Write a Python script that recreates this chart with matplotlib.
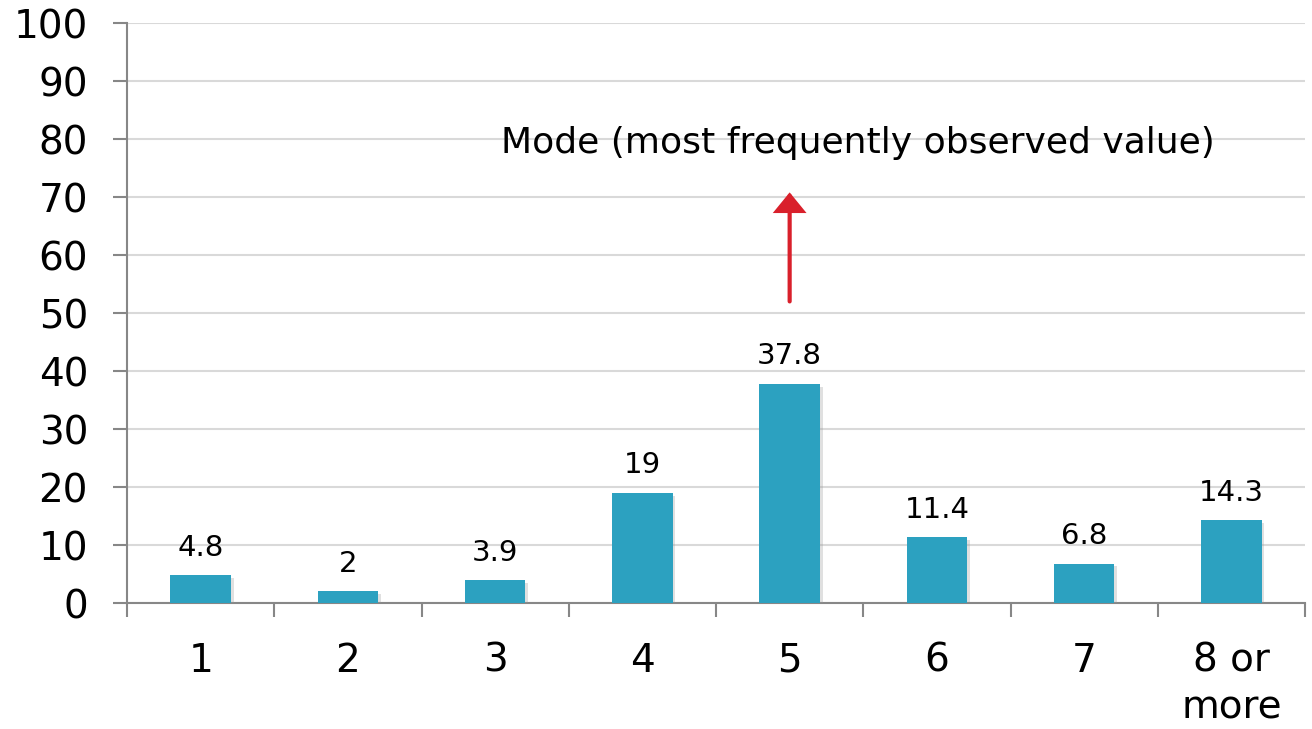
import matplotlib.pyplot as plt
import matplotlib.patheffects as pe

categories = ["1", "2", "3", "4", "5", "6", "7", "8 or\nmore"]
values = [4.8, 2, 3.9, 19, 37.8, 11.4, 6.8, 14.3]
mode_label = "Mode (most frequently observed value)"

bar_color = "#2CA1C0"
axis_color = "#878787"
grid_color = "#D9D9D9"

fig = plt.figure(figsize=(13.12, 7.29), dpi=100)
ax = fig.add_axes([0.0968, 0.1728, 0.8979, 0.7956])

x = list(range(len(categories)))
bars = ax.bar(x, values, width=0.41, color=bar_color, zorder=3)
for b in bars:
    b.set_path_effects([pe.SimplePatchShadow(offset=(2, -2), shadow_rgbFace="#999999", alpha=0.3),
                        pe.Normal()])

# value labels above bars
for xi, v in zip(x, values):
    ax.text(xi, v + 2.3, f"{v:g}", ha="center", va="bottom", fontsize=21, color="black")

# mode annotation
mode_idx = values.index(max(values))
ax.annotate("", xy=(mode_idx, 70.8), xytext=(mode_idx, 52),
            arrowprops=dict(arrowstyle="-|>,head_width=0.9,head_length=1.1",
                            color="#D9202B", lw=3, shrinkA=0, shrinkB=0,
                            joinstyle="miter"),
            zorder=4)
ax.text(mode_idx + 0.46, 79.3, mode_label, ha="center", va="center", fontsize=26)

ax.set_xlim(-0.5, len(categories) - 0.5)
ax.set_ylim(0, 100)
ax.set_yticks(range(0, 101, 10))
ax.tick_params(axis="y", labelsize=28, length=10, width=1.5, color=axis_color, pad=18)

ax.set_xticks(x)
ax.set_xticklabels(categories, fontsize=28, linespacing=1.3)
ax.tick_params(axis="x", which="major", length=0, pad=28)
ax.set_xticks([i + 0.5 for i in range(-1, len(categories))], minor=True)
ax.tick_params(axis="x", which="minor", length=10, width=1.5, color=axis_color)

ax.yaxis.grid(True, color=grid_color, lw=1.5, zorder=0)
ax.set_axisbelow(True)
for side in ["top", "right"]:
    ax.spines[side].set_visible(False)
for side in ["left", "bottom"]:
    ax.spines[side].set_color(axis_color)
    ax.spines[side].set_linewidth(1.5)

fig.savefig("out.png", dpi=100)
